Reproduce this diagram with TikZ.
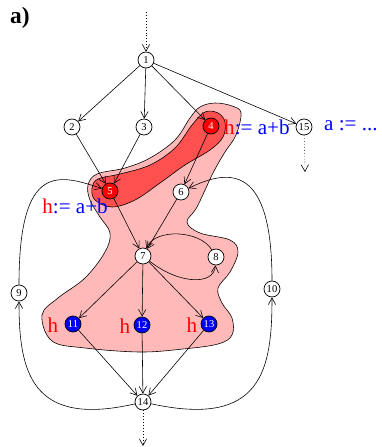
\documentclass[tikz,border=0pt]{standalone}
\usepackage{fontspec}
\setmainfont{Liberation Serif}
\usetikzlibrary{arrows.meta}
\definecolor{RegLight}{RGB}{255,185,185}
\definecolor{RegDark}{RGB}{255,80,80}

\begin{document}
\begin{tikzpicture}[
  x=0.03cm, y=-0.03cm,
  blk/.style={
    circle,
    draw,
    fill=white,
    line width=0.6pt,
    minimum size=0.48cm,
    inner sep=0pt,
    font=\small
  },
  hot/.style={blk, fill=red, text=white},
  usebl/.style={blk, fill=blue, text=white},
  arr/.style={-{Straight Barb[length=2mm,width=2.2mm]}, line width=0.5pt},
  dots/.style={arr, dotted},
  lbl/.style={text=blue, font=\fontsize{18}{20}\selectfont, inner sep=0pt},
  region/.style={draw, line width=0.5pt}
]
\useasboundingbox (0,0) rectangle (381,447);

\filldraw[region, fill=RegLight] plot[smooth cycle, tension=0.6] coordinates {
  (215,103) (232,106) (241,113) (236,135) (225,152) (213,173) (197,207)
  (187,222) (200,233) (230,240) (238,252) (230,272) (218,288) (222,303)
  (232,318) (232,335) (218,344) (183,349) (140,352) (85,348) (52,341)
  (42,315) (58,298) (85,278) (105,252) (110,233) (100,217) (90,200)
  (88,185) (97,174) (125,168) (150,158) (175,140) (190,118) (200,107)};
\filldraw[region, fill=RegDark] plot[smooth cycle, tension=0.6] coordinates {
  (205,112) (218,113) (225,122) (223,137) (210,150) (185,165) (160,183)
  (135,200) (112,207) (95,200) (92,188) (98,179) (120,174) (150,165)
  (175,148) (192,125)};

\node[font=\fontsize{20}{24}\bfseries\selectfont] (tag) at (20,18) {a)};

\node[blk] (n1) at (146,60) {1};
\node[blk] (n2) at (72,127) {2};
\node[blk] (n3) at (144,127) {3};
\node[hot] (n4) at (211,126) {4};
\node[blk] (n15) at (304,127) {15};
\node[hot] (n5) at (110,191) {5};
\node[blk] (n6) at (181,192) {6};
\node[blk] (n7) at (143,256) {7};
\node[blk] (n8) at (216,257) {8};
\node[blk] (n9) at (19,293) {9};
\node[blk] (n10) at (272,289) {10};
\node[usebl] (n11) at (73,324) {11};
\node[usebl] (n12) at (142,325) {12};
\node[usebl] (n13) at (209,324) {13};
\node[blk] (n14) at (143,402) {14};

\coordinate (in1) at (146,12);
\coordinate (out15) at (305,172);
\coordinate (out14) at (143,446);

\node[lbl, anchor=west] (def4) at (224,127) {\textcolor{red}{h}:= a+b};
\node[lbl, anchor=west] (def15) at (324,126) {a := ...};
\node[lbl, anchor=east] (def5) at (108,206) {\textcolor{red}{h}:= a+b};
\node[lbl, text=red] (h11) at (53,325) {h};
\node[lbl, text=red] (h12) at (125,326) {h};
\node[lbl, text=red] (h13) at (192,325) {h};

\draw[dots] (in1) -- (n1);
\draw[dots] (n15) -- (out15);
\draw[dots] (n14) -- (out14);

\draw[arr] (n1) -- (n2);
\draw[arr] (n1) -- (n3);
\draw[arr] (n1) -- (n4);
\draw[arr] (n1) -- (n15);
\draw[arr] (n2) -- (n5);
\draw[arr] (n3) -- (n5);
\draw[arr] (n4) -- (n6);
\draw[arr] (n5) -- (n7);
\draw[arr] (n6) -- (n7);
\draw[arr] (n7) -- (n11);
\draw[arr] (n7) -- (n12);
\draw[arr] (n7) -- (n13);
\draw[arr] (n11) -- (n14);
\draw[arr] (n12) -- (n14);
\draw[arr] (n13) -- (n14);
\draw[arr] (n7) .. controls (180,285) and (214,285) .. (n8);
\draw[arr] (n8) .. controls (200,230) and (155,228) .. (n7);
\draw[arr] (n9) .. controls (19,160) and (60,175) .. (n5);
\draw[arr] (n10) .. controls (272,165) and (230,168) .. (n6);
\draw[arr] (n14) .. controls (30,428) and (19,370) .. (n9);
\draw[arr] (n14) .. controls (262,428) and (272,370) .. (n10);
\end{tikzpicture}
\end{document}
